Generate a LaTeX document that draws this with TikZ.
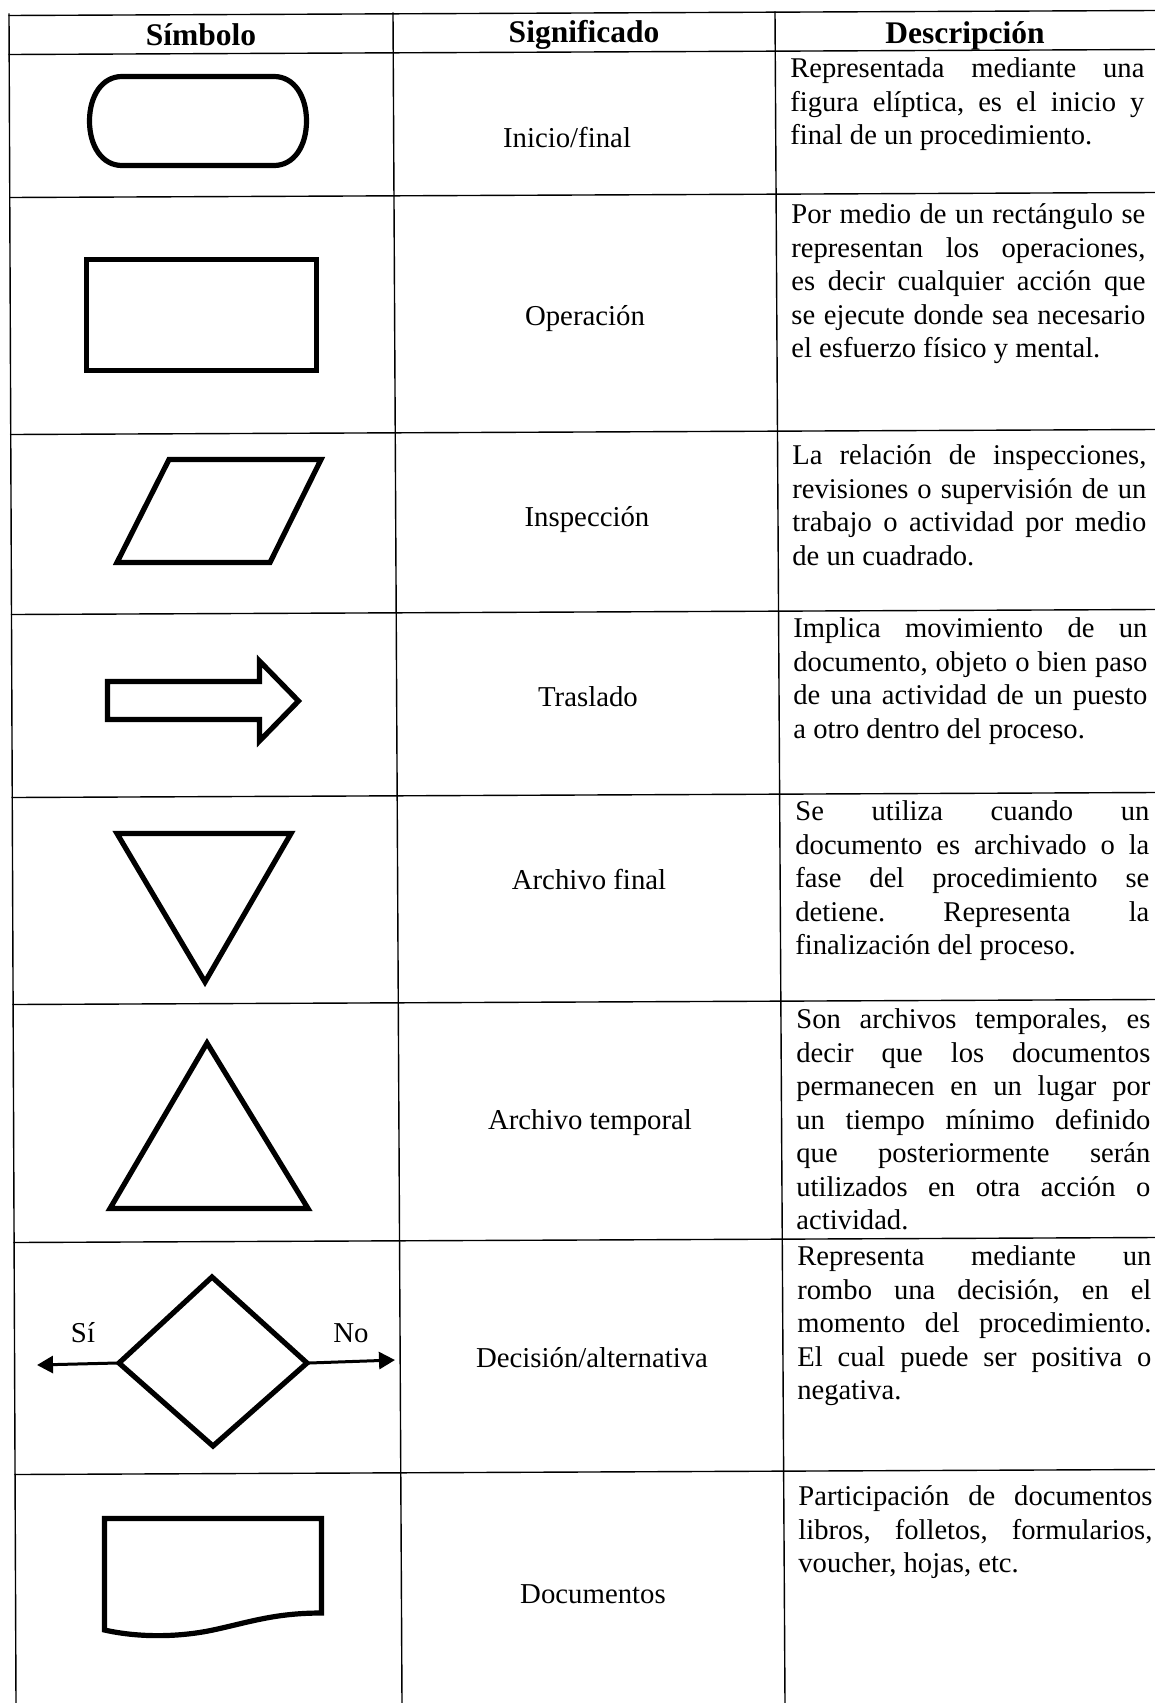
\documentclass[tikz,border=0pt]{standalone}
\usepackage{fontspec}
\setmainfont{Liberation Serif}
\usetikzlibrary{arrows.meta}
\tolerance=9999
\hbadness=10000
\hyphenpenalty=10000
\exhyphenpenalty=10000
\frenchspacing
\tikzset{
  grid/.style={line width=0.7pt, line cap=rect},
  shp/.style={line width=2.6pt, line join=miter},
  sig/.style={font=\fontsize{14.4}{16.75}\selectfont, inner sep=0pt},
  hdr/.style={font=\fontsize{15.75}{18}\selectfont\bfseries, inner sep=0pt},
  desc/.style={anchor=north west, inner sep=0pt, text width=177pt, align=justify,
    font=\fontsize{14.3}{16.75}\selectfont},
  branch/.style={line width=1.5pt, -{Triangle[length=8pt,width=8.5pt]}},
}
\begin{document}
\begin{tikzpicture}[x=0.5pt,y=-0.5pt]
\useasboundingbox (0,0) rectangle (1155,1703);
% ---------- table grid ----------
\draw[grid] (9,14) -- (16,1703);
\draw[grid] (393,13) -- (402,1703);
\draw[grid] (775,12) -- (785,1703);
\draw[grid] (9,15.5) -- (1155,10.5);
\draw[grid] (9.2,54.5) -- (1155,49.5);
\draw[grid] (9.8,197.5) -- (1155,192.5);
\draw[grid] (10.7,434.5) -- (1155,429.5);
\draw[grid] (11.5,614.5) -- (1155,609.5);
\draw[grid] (12.2,797.5) -- (1155,792.5);
\draw[grid] (13.1,1004.5) -- (1155,999.5);
\draw[grid] (14.1,1242.5) -- (1155,1237.5);
\draw[grid] (15,1474.5) -- (1155,1469.5);
% ---------- header ----------
\node[hdr] (h1) at (201,35) {Símbolo};
\node[hdr] (h2) at (584,35) {Significado};
\node[hdr] (h3) at (965,36) {Descripción};
% ---------- symbols ----------
\draw[shp] (89.5,121) .. controls (89.5,96) and (102,76.5) .. (122,76.5)
  -- (274,76.5) .. controls (294,76.5) and (306.5,96) .. (306.5,121)
  .. controls (306.5,146) and (294,165.5) .. (274,165.5)
  -- (122,165.5) .. controls (102,165.5) and (89.5,146) .. (89.5,121) -- cycle;
\draw[shp] (86.5,259.5) rectangle (316.5,370.5);
\draw[shp] (169,459.5) -- (321,459.5) -- (270,562.5) -- (117,562.5) -- cycle;
\draw[shp] (107.5,681.5) -- (259.5,681.5) -- (259.5,661) -- (298.5,701)
  -- (259.5,741) -- (259.5,719.5) -- (107.5,719.5) -- cycle;
\draw[shp] (117,833.5) -- (291,833.5) -- (205,982) -- cycle;
\draw[shp] (207,1043) -- (308,1208.5) -- (110,1208.5) -- cycle;
\draw[shp] (212,1277) -- (307,1363) -- (213,1446) -- (119,1363) -- cycle;
\coordinate (dl) at (117,1363);
\coordinate (dr) at (309,1363);
\coordinate (siend) at (37,1365);
\coordinate (noend) at (395,1360);
\draw[branch] (dl) -- (siend);
\draw[branch] (dr) -- (noend);
\node[sig] (si) at (83,1333) {Sí};
\node[sig] (no) at (351,1333) {No};
\draw[shp] (104.5,1630) -- (104.5,1518.5) -- (321.5,1518.5) -- (321.5,1613)
  .. controls (275,1613) and (250,1622) .. (213,1630)
  .. controls (180,1637) and (140,1638) .. (104.5,1630) -- cycle;
% ---------- meanings ----------
\node[sig] (s1) at (567,137) {Inicio/final};
\node[sig] (s2) at (585,319) {Operación};
\node[sig] (s3) at (587,520) {Inspección};
\node[sig] (s4) at (588,697) {Traslado};
\node[sig] (s5) at (589,879) {Archivo final};
\node[sig] (s6) at (590,1123) {Archivo temporal};
\node[sig] (s7) at (592,1358) {Decisión/alternativa};
\node[sig] (s8) at (593,1594) {Documentos};
% ---------- descriptions ----------
\node[desc] (d1) at (790,54) {\strut Representada mediante una\linebreak
figura elíptica, es el inicio y\linebreak final de un procedimiento.};
\node[desc] (d2) at (791,200) {\strut Por medio de un rectángulo se\linebreak
representan los operaciones,\linebreak es decir cualquier acción que\linebreak
se ejecute donde sea necesario\linebreak el esfuerzo físico y mental.};
\node[desc] (d3) at (792,441) {\strut La relación de inspecciones,\linebreak
revisiones o supervisión de un\linebreak trabajo o actividad por medio\linebreak
de un cuadrado.};
\node[desc] (d4) at (793,614) {\strut Implica movimiento de un\linebreak
documento, objeto o bien paso\linebreak de una actividad de un puesto\linebreak
a otro dentro del proceso.};
\node[desc] (d5) at (795,797) {\strut Se utiliza cuando un\linebreak
documento es archivado o la\linebreak fase del procedimiento se\linebreak
detiene. Representa la\linebreak finalización del proceso.};
\node[desc] (d6) at (796,1005) {\strut Son archivos temporales, es\linebreak
decir que los documentos\linebreak permanecen en un lugar por\linebreak
un tiempo mínimo definido\linebreak que posteriormente serán\linebreak
utilizados en otra acción o\linebreak actividad.};
\node[desc] (d7) at (797,1242) {\strut Representa mediante un\linebreak
rombo una decisión, en el\linebreak momento del procedimiento.\linebreak
El cual puede ser positiva o\linebreak negativa.};
\node[desc] (d8) at (798,1482) {\strut Participación de documentos\linebreak
libros, folletos, formularios,\linebreak voucher, hojas, etc.};
\end{tikzpicture}
\end{document}
